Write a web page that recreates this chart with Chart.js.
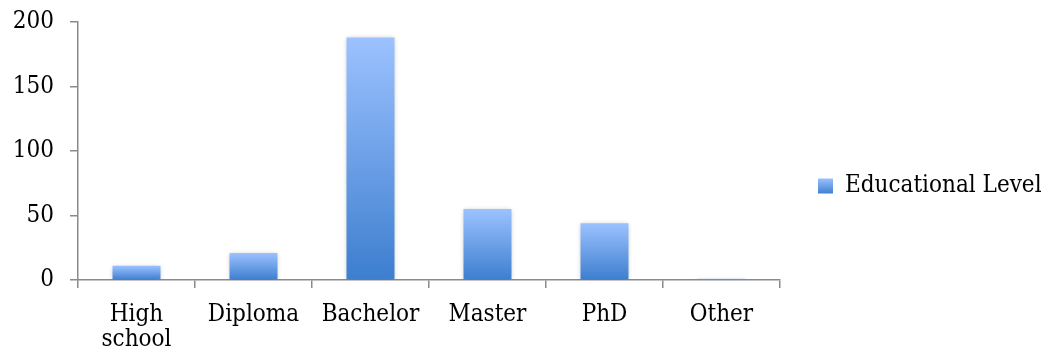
<!DOCTYPE html>
<html>
<head>
<meta charset="utf-8">
<script src="https://cdn.jsdelivr.net/npm/chart.js@4/dist/chart.umd.min.js"></script>
<style>
    html, body { margin: 0; padding: 0; background: #fff; }
    #wrap { width: 1047px; height: 358px; }
</style>
</head>
<body>
<div id="wrap"><canvas id="display" width="1047" height="358"></canvas></div>
<script>
const levels = [["High", "school"], "Diploma", "Bachelor", "Master", "PhD", "Other"];
const counts = [11, 21, 188, 55, 44, 1];
const yTicks = [0, 50, 100, 150, 200];
const seriesName = "Educational Level";

const axisGray = "#8a8a8a";
const topBlue = "#9cc2ff";
const bottomBlue = "#3d7ecf";
const fontFamily = "'DejaVu Serif Condensed', 'DejaVu Serif', serif";
const font = { family: fontFamily, size: 24 };

let shade = function (ctx, y0, y1) {
    if (!isFinite(y0) || !isFinite(y1) || y0 === y1) {
        return bottomBlue;
    }
    const g = ctx.createLinearGradient(0, y0, 0, y1);
    g.addColorStop(0, topBlue);
    g.addColorStop(1, bottomBlue);
    return g;
};

// every bar gets its own top-to-bottom fade
let barFill = function (c) {
    const chart = c.chart;
    const y = chart.scales.y;
    if (!y || c.dataIndex === undefined) {
        return bottomBlue;
    }
    return shade(chart.ctx, y.getPixelForValue(counts[c.dataIndex]), y.getPixelForValue(0));
};

// the layout padding alone decides where the plot sits
let noScalePadding = function (axis) {
    axis.paddingTop = 0;
    axis.paddingBottom = 0;
    axis.paddingLeft = 0;
    axis.paddingRight = 0;
};

// soft drop shadow behind the bars
const barShadow = {
    id: "barShadow",
    beforeDatasetsDraw(chart) {
        const ctx = chart.ctx;
        ctx.save();
        ctx.shadowColor = "rgba(0,0,0,0.28)";
        ctx.shadowBlur = 5;
        ctx.shadowOffsetX = 0;
        ctx.shadowOffsetY = 1;
    },
    afterDatasetsDraw(chart) {
        chart.ctx.restore();
    }
};

// keep the legend column narrow so the plot reaches across
const legendWidth = {
    id: "legendWidth",
    afterInit(chart) {
        const legend = chart.legend;
        const fit = legend.fit;
        legend.fit = function () {
            fit.call(this);
            this.width = 267;
        };
    }
};

new Chart(document.getElementById("display"), {
    type: "bar",
    data: {
        labels: levels,
        datasets: [{
            label: seriesName,
            data: counts,
            backgroundColor: barFill,
            borderWidth: 0,
            categoryPercentage: 1,
            barPercentage: 0.41
        }]
    },
    options: {
        responsive: false,
        animation: false,
        events: [],
        layout: { padding: { left: 13, top: 22, right: 0, bottom: 8 } },
        scales: {
            x: {
                afterFit(axis) {
                    noScalePadding(axis);
                    axis.height = 70;
                },
                grid: { drawOnChartArea: false, drawTicks: true, tickLength: 8, color: axisGray, lineWidth: 1.5, offset: true },
                border: { color: axisGray, width: 1.5 },
                ticks: { color: "#000", font: { family: fontFamily, size: 24, lineHeight: 1.05 }, padding: 14, maxRotation: 0, autoSkip: false }
            },
            y: {
                min: 0,
                max: 200,
                afterBuildTicks(axis) {
                    axis.ticks = yTicks.map(v => ({ value: v }));
                },
                afterFit(axis) {
                    noScalePadding(axis);
                    axis.width = 65;
                },
                grid: { drawOnChartArea: false, drawTicks: true, tickLength: 8, color: axisGray, lineWidth: 1.5 },
                border: { color: axisGray, width: 1.5 },
                ticks: { color: "#000", font: font, padding: 16 }
            }
        },
        plugins: {
            tooltip: { enabled: false },
            legend: {
                position: "right",
                align: "center",
                labels: {
                    color: "#000",
                    font: font,
                    boxWidth: 15,
                    boxHeight: 15,
                    padding: 38,
                    generateLabels(chart) {
                        const items = Chart.defaults.plugins.legend.labels.generateLabels(chart);
                        const lg = chart.legend;
                        const mid = lg ? (lg.top + lg.bottom) / 2 : NaN;
                        items.forEach(it => {
                            it.fillStyle = shade(chart.ctx, mid - 8, mid + 8);
                            it.strokeStyle = "rgba(0,0,0,0)";
                            it.lineWidth = 0;
                        });
                        return items;
                    }
                }
            }
        }
    },
    plugins: [barShadow, legendWidth]
});
</script>
</body>
</html>
